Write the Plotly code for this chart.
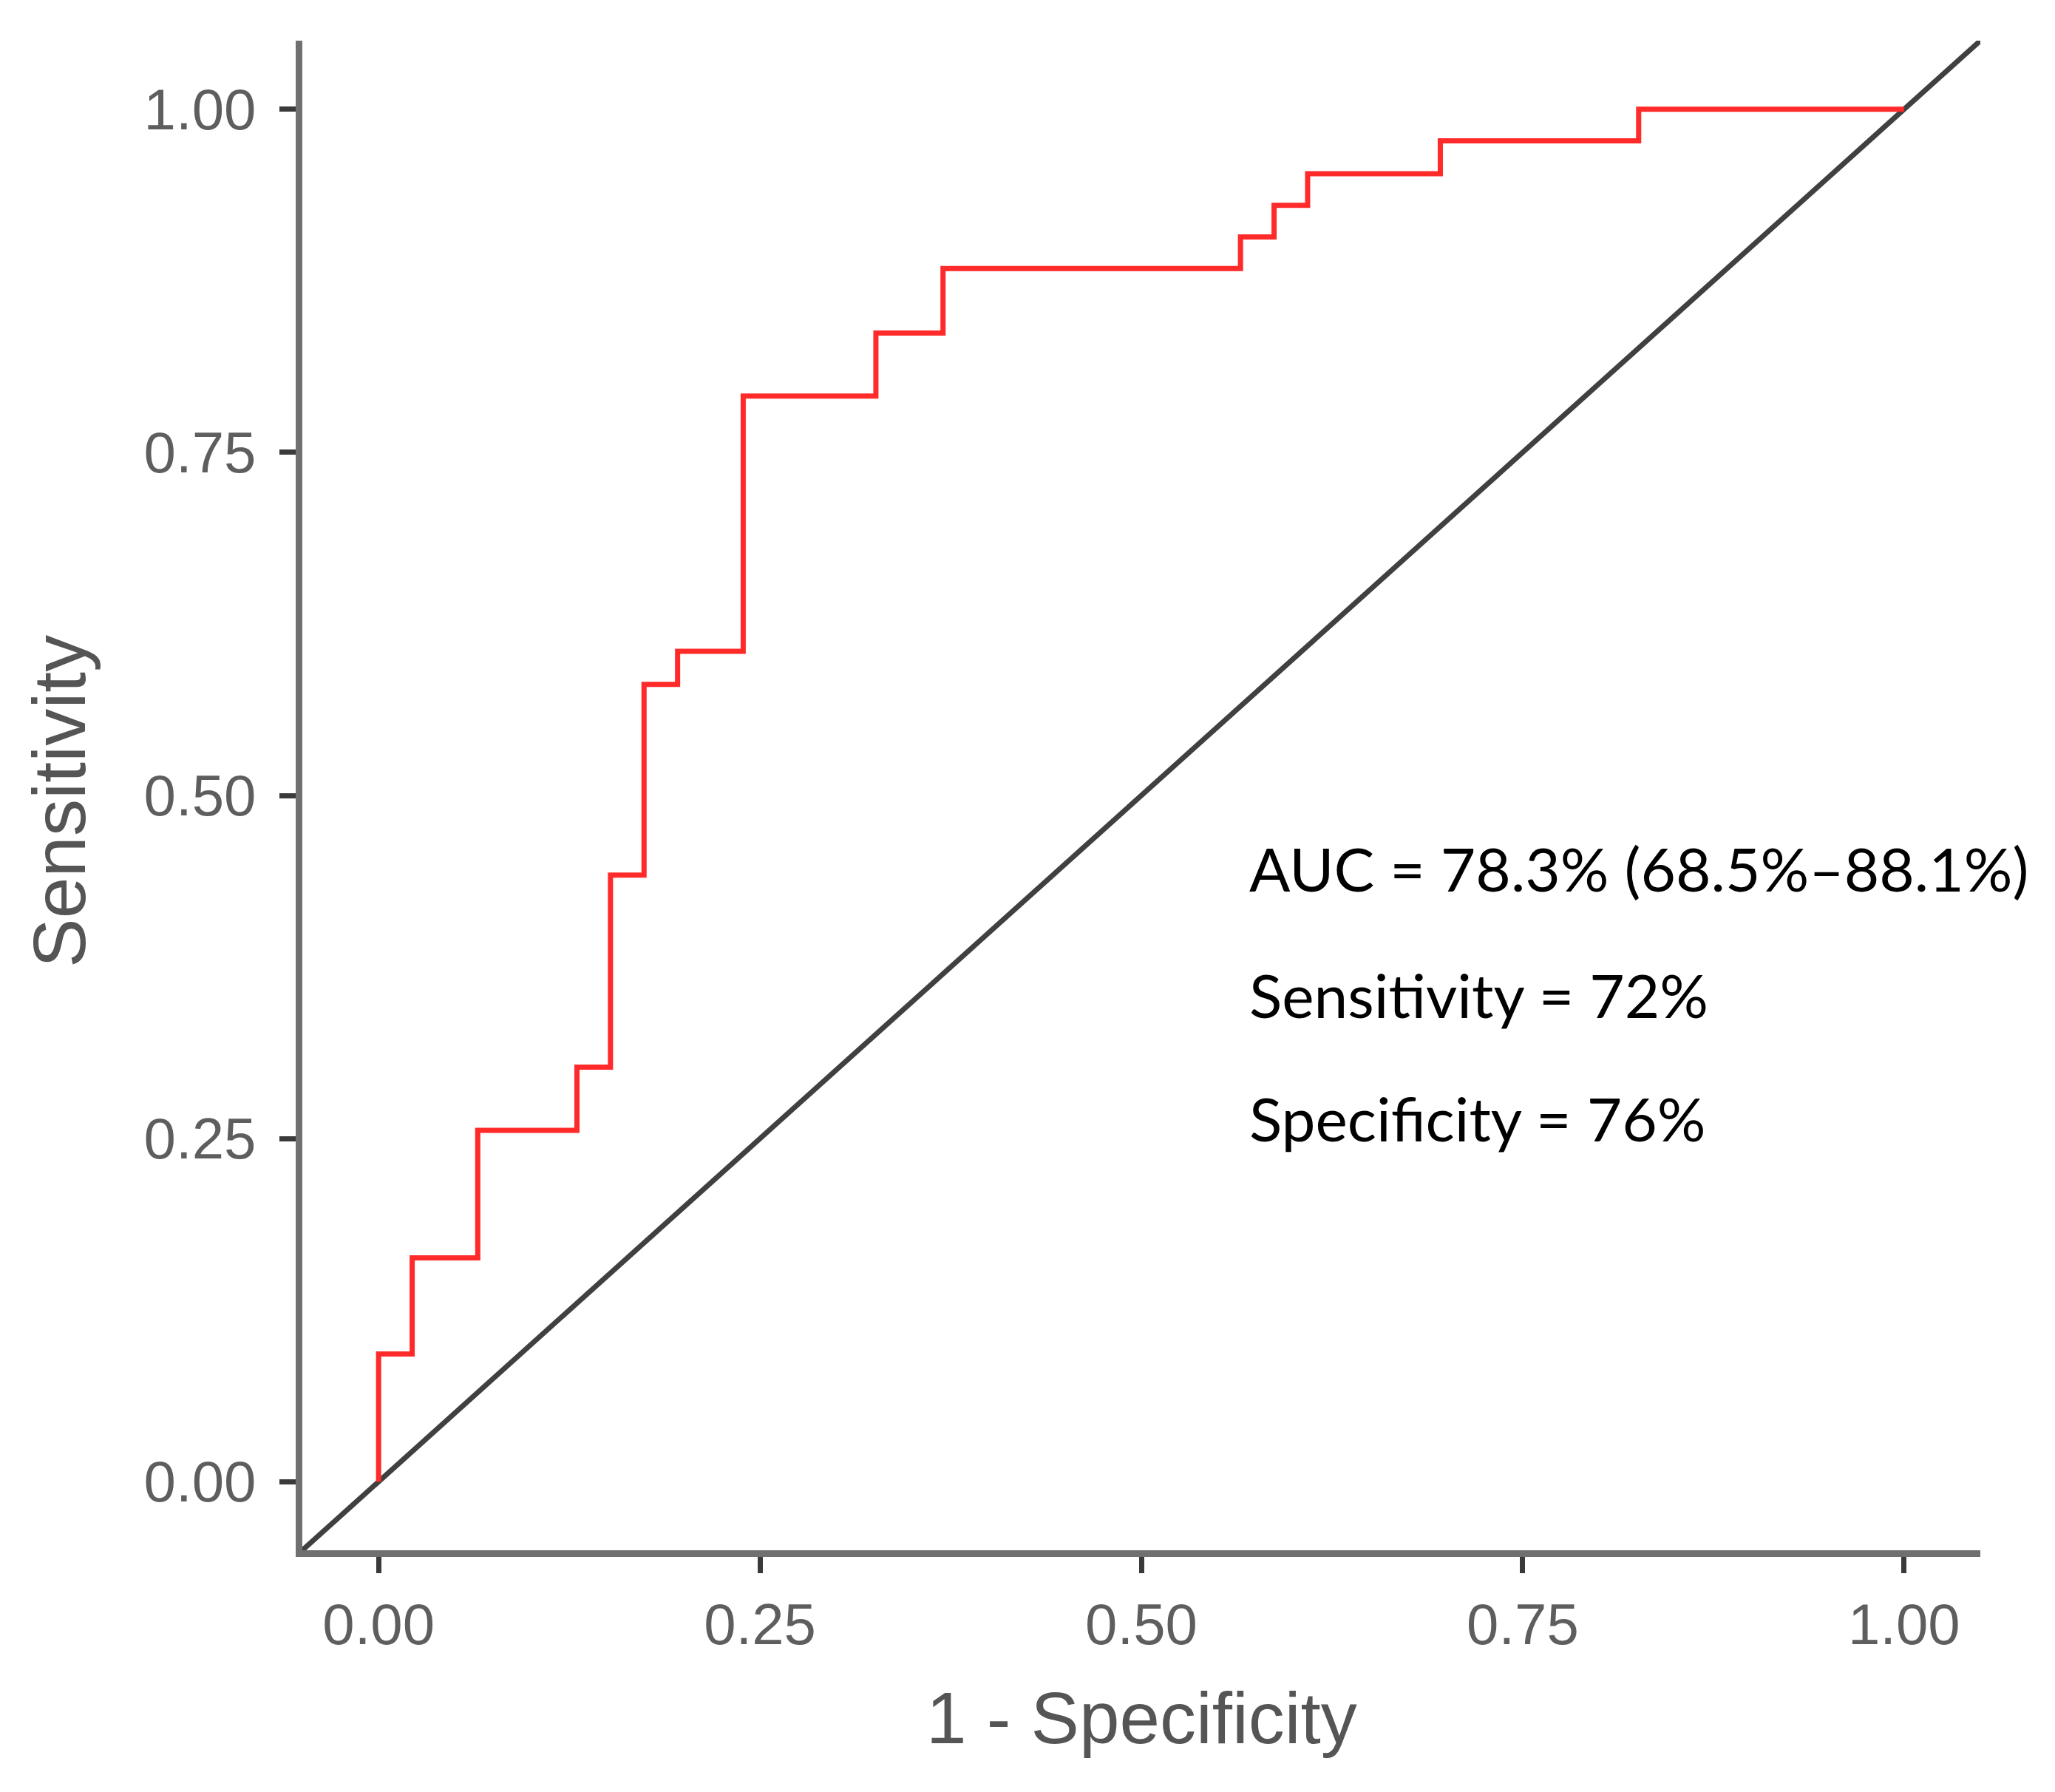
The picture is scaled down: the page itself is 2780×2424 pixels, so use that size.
import plotly.graph_objects as go

# ROC step points (1 - specificity, sensitivity)
fpr = [0.000, 0.000, 0.022, 0.022, 0.065, 0.065, 0.130, 0.130, 0.152, 0.152,
       0.174, 0.174, 0.196, 0.196, 0.239, 0.239, 0.326, 0.326, 0.370, 0.370,
       0.565, 0.565, 0.587, 0.587, 0.609, 0.609, 0.696, 0.696, 0.826, 0.826, 1.000]
tpr = [0.000, 0.093, 0.093, 0.163, 0.163, 0.256, 0.256, 0.302, 0.302, 0.442,
       0.442, 0.581, 0.581, 0.605, 0.605, 0.791, 0.791, 0.837, 0.837, 0.884,
       0.884, 0.907, 0.907, 0.930, 0.930, 0.953, 0.953, 0.977, 0.977, 1.000, 1.000]

diag = [-0.05, 1.05]
tick_vals = [0.00, 0.25, 0.50, 0.75, 1.00]
tick_text = ["0.00", "0.25", "0.50", "0.75", "1.00"]

stats_lines = ["AUC = 78.3% (68.5%\u201388.1%)", "Sensitivity = 72%", "Specificity = 76%"]
stats_y = [0.447, 0.355, 0.265]
stats_x = 0.570

fig = go.Figure()
fig.add_trace(go.Scatter(x=diag, y=diag, mode="lines",
                         line=dict(color="#404040", width=7), showlegend=False,
                         hoverinfo="skip"))
fig.add_trace(go.Scatter(x=fpr, y=tpr, mode="lines",
                         line=dict(color="#ff2a2a", width=7), showlegend=False))

axis_common = dict(
    range=[-0.05, 1.05], tickvals=tick_vals, ticktext=tick_text,
    showgrid=False, zeroline=False, showline=True, linecolor="#707070", linewidth=9,
    ticks="outside", ticklen=22, tickwidth=7, tickcolor="#3a3a3a",
    tickfont=dict(family="Liberation Sans, Arial", size=78, color="#5e5e5e"),
)
fig.update_xaxes(**axis_common, ticklabelstandoff=2)
fig.update_yaxes(**axis_common, ticklabelstandoff=16)

for txt, yy in zip(stats_lines, stats_y):
    fig.add_annotation(x=stats_x, y=yy, xref="x", yref="y", text=txt, showarrow=False,
                       xanchor="left", yanchor="middle",
                       font=dict(family="Lato", size=82, color="#000000"))

fig.add_annotation(x=0.5, y=-0.111, xref="paper", yref="paper", text="1 - Specificity",
                   showarrow=False, xanchor="center", yanchor="middle",
                   font=dict(family="Liberation Sans, Arial", size=98, color="#555555"))
fig.add_annotation(x=-0.145, y=0.496, xref="paper", yref="paper", text="Sensitivity",
                   showarrow=False, xanchor="center", yanchor="middle", textangle=-90,
                   font=dict(family="Liberation Sans, Arial", size=100, color="#555555"))

fig.update_layout(
    width=2780, height=2424,
    margin=dict(l=401, r=109, t=47, b=335),
    paper_bgcolor="white", plot_bgcolor="white",
)
fig.write_html("out.html")
